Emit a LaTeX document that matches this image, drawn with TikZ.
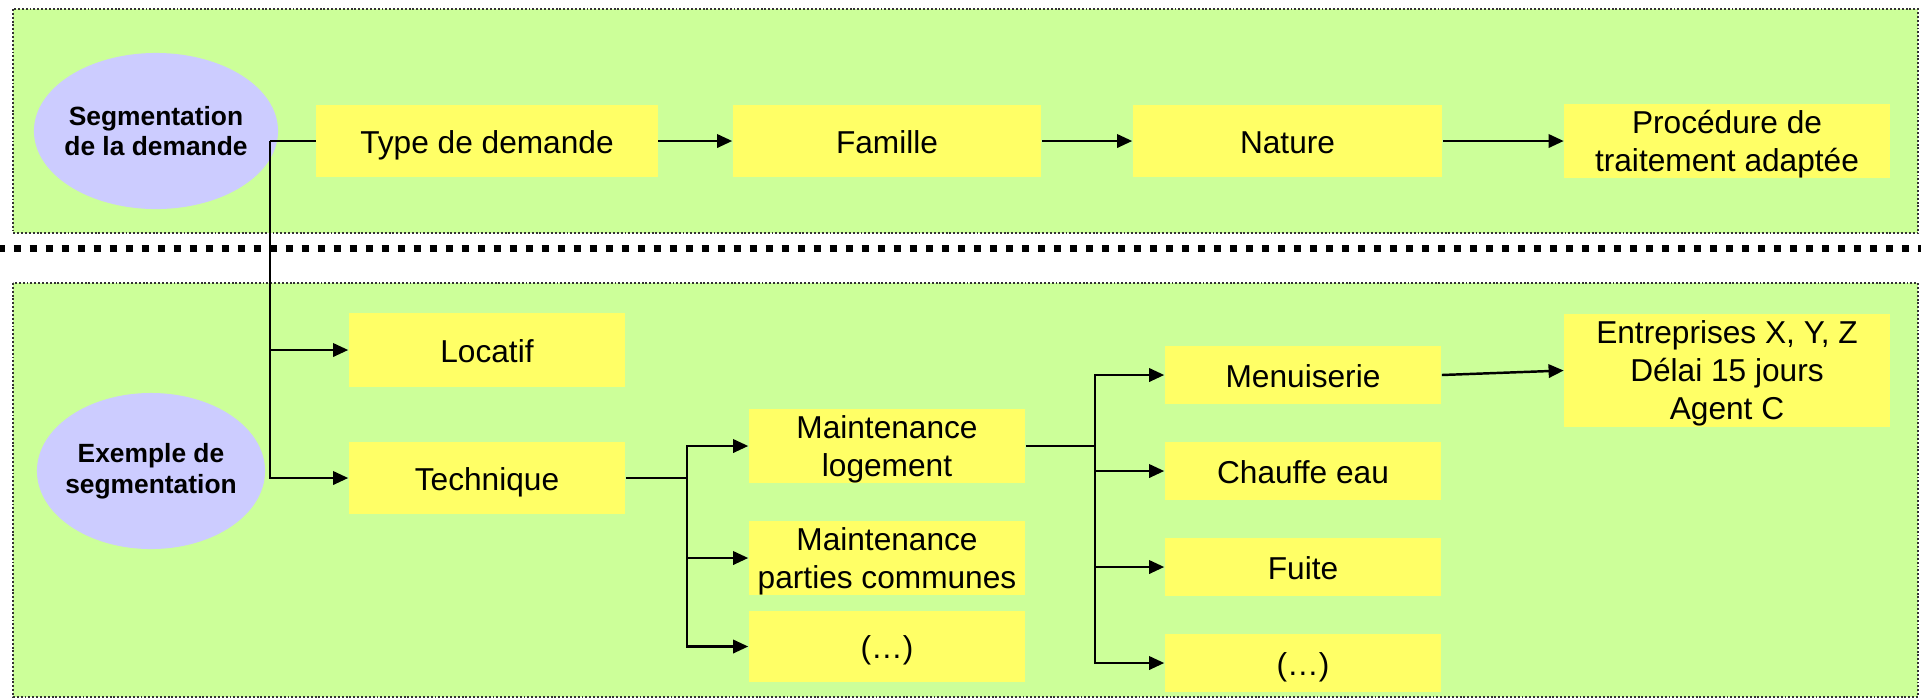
\documentclass[tikz,border=0pt]{standalone}
\usepackage{fontspec}
\setmainfont{Liberation Sans}
\usepackage{tikz}
\usetikzlibrary{arrows.meta,shapes.geometric}

\definecolor{panelgreen}{RGB}{204,255,153}
\definecolor{boxyellow}{RGB}{255,255,102}
\definecolor{ovallilac}{RGB}{204,204,255}

% struts for the first and last line of a box with several lines
\newcommand{\firstln}{\rule{0pt}{8.3pt}}
\newcommand{\lastln}{\rule[-1.3pt]{0pt}{1.3pt}}

\tikzset{
	panel/.style={fill=panelgreen,draw=black!80,line width=0.35pt,dash pattern=on 0.55pt off 0.55pt},
	box/.style={fill=boxyellow,inner sep=0pt,align=center,font=\fontsize{9}{10.8}\selectfont,
		execute at begin node={\rule{0pt}{9pt}},execute at end node={\rule[-2pt]{0pt}{2pt}}},
	oval/.style={ellipse,fill=ovallilac,inner xsep=-2pt,inner ysep=0pt,align=center,font=\fontsize{7.5}{8.7}\selectfont\bfseries},
	link/.style={line width=0.7pt},
	arr/.style={line width=0.7pt,-{Triangle[length=4.3pt,width=3.8pt]}}
}

\begin{document}
\begin{tikzpicture}[x=0.01cm,y=-0.01cm]
	\useasboundingbox(0,0) rectangle (1921,699);
	% two panels and the separator
	\draw[panel](13,9) rectangle (1918,233);
	\draw[panel](13,283) rectangle (1918,697);
	\draw[line width=2pt,dash pattern=on 2.13pt off 2.42pt](-2.3,248.5)--(1921,248.5);

	% upper row
	\node[oval,minimum width=2.44cm,minimum height=1.56cm](seg)at(156,131){Segmentation\\de la demande};
	\node[box,minimum width=3.41cm,minimum height=0.72cm](type)at(487,141){Type de demande};
	\node[box,minimum width=3.08cm,minimum height=0.72cm](famille)at(887,141){Famille};
	\node[box,minimum width=3.09cm,minimum height=0.72cm](nature)at(1287.5,141){Nature};
	\node[box,minimum width=3.25cm,minimum height=0.72cm](proc)at(1727,141){\firstln Procédure de\\traitement adaptée\lastln};
				\draw[arr](type.east)--(famille.west);
				\draw[arr](famille.east)--(nature.west);
				\draw[arr](nature.east)--(proc.west);

	% example
	\node[oval,minimum width=2.28cm,minimum height=1.56cm](exemple)at(151,471){Exemple de\\segmentation};
	\node[box,minimum width=2.76cm,minimum height=0.73cm](locatif)at(487,350){Locatif};
	\node[box,minimum width=2.76cm,minimum height=0.72cm](technique)at(487,478){Technique};
	\node[box,minimum width=2.76cm,minimum height=0.72cm](mlog)at(887,446){\firstln Maintenance\\logement\lastln};
	\node[box,minimum width=2.76cm,minimum height=0.72cm](mpc)at(887,558){\firstln Maintenance\\parties communes\lastln};
	\node[box,minimum width=2.76cm,minimum height=0.71cm](etcA)at(887,646.5){(…)};
	\node[box,minimum width=2.76cm,minimum height=0.58cm](menuis)at(1303,375){Menuiserie};
	\node[box,minimum width=2.76cm,minimum height=0.58cm](chauffe)at(1303,471){Chauffe eau};
	\node[box,minimum width=2.76cm,minimum height=0.58cm](fuite)at(1303,567){Fuite};
	\node[box,minimum width=2.76cm,minimum height=0.58cm](etcB)at(1303,663){(…)};
	\node[box,minimum width=3.25cm,minimum height=1.13cm](entr)at(1727,370.5){\firstln Entreprises X, Y, Z\\Délai 15 jours\\Agent C\lastln};

	\coordinate(j1)at(270,141);
	\coordinate(j2)at(687,478);
	\coordinate(j3)at(1095,446);
				\draw[link](type.west)--(j1);
				\draw[arr](j1)|-(locatif.west);
				\draw[arr](j1)|-(technique.west);
				\draw[link](technique.east)--(j2);
				\draw[arr](j2)|-(mlog.west);
				\draw[arr](j2)|-(mpc.west);
				\draw[arr](j2)|-(etcA.west);
				\draw[link](mlog.east)--(j3);
				\draw[arr](j3)|-(menuis.west);
				\draw[arr](j3)|-(chauffe.west);
				\draw[arr](j3)|-(fuite.west);
				\draw[arr](j3)|-(etcB.west);
				\draw[arr](menuis.east)--(entr.west);
\end{tikzpicture}
\end{document}
